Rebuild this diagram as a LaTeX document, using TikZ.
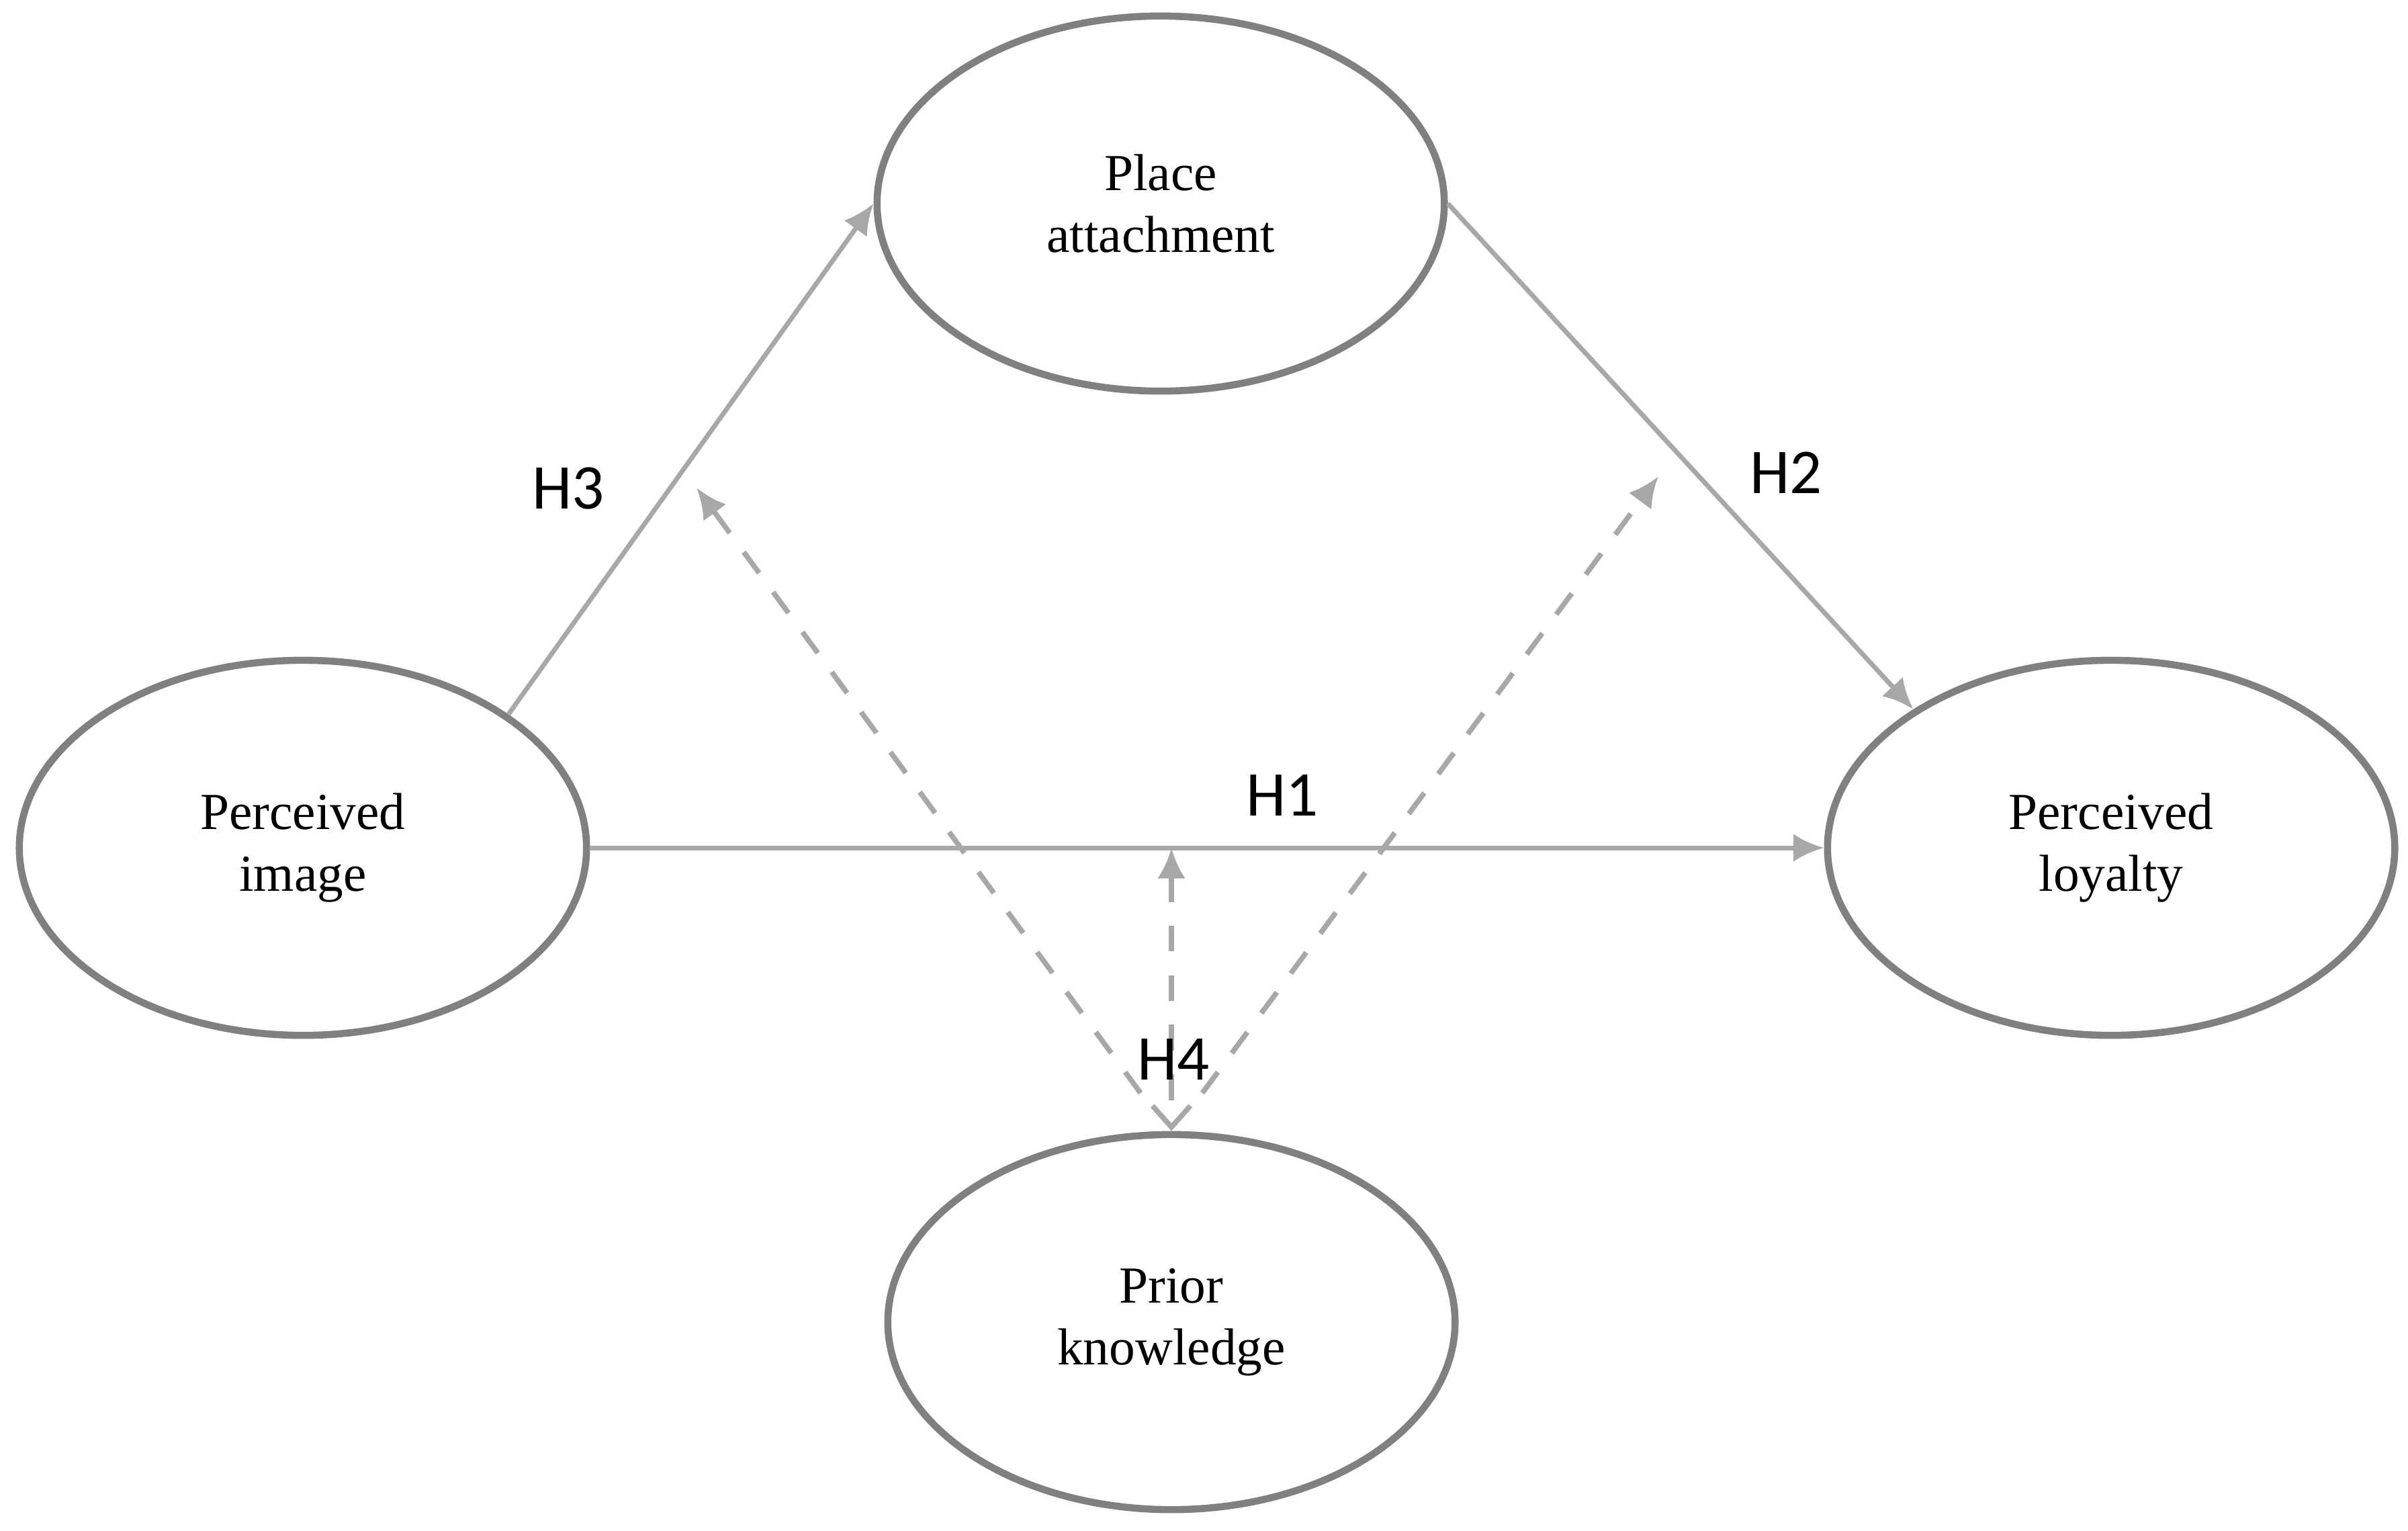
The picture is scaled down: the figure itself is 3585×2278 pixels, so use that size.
\documentclass[tikz,border=0pt]{standalone}
\usepackage{fontspec}
\setmainfont{Liberation Serif}
\newfontfamily\hfont{Carlito}
\usetikzlibrary{arrows.meta,shapes.geometric}
\definecolor{ring}{HTML}{808080}
\definecolor{link}{HTML}{A8A8A8}
\tikzset{
  construct/.style={draw=ring,line width=3pt,ellipse,minimum width=8.44cm,minimum height=5.58cm,align=center,font=\fontsize{22}{26}\selectfont,inner sep=0pt},
  path1/.style={draw=link,line width=2pt,-{Latex[length=13pt,width=12pt]}},
  dpath/.style={draw=link,line width=2.2pt,dash pattern=on 11pt off 10pt},
  hlabel/.style={font=\hfont\fontsize{27}{30}\selectfont,text=black}
}
\begin{document}
\begin{tikzpicture}[x=0.01cm,y=-0.01cm]
\useasboundingbox (0,0) rectangle (3585,2278);
\node[construct] (pa) at (1728,303) {Place\\attachment};
\node[construct] (pi) at (451,1262) {Perceived\\image};
\node[construct] (pl) at (3143,1262) {Perceived\\loyalty};
\node[construct] (pk) at (1744,1968) {Prior\\knowledge};
\draw[path1] (pi.33.5) -- (pa.180);
\draw[path1] (pa.0) -- (pl.145.8);
\draw[path1] (pi.east) -- (pl.west);
\coordinate (mid) at (1744,1262);
\coordinate (lb) at (1698,1627);
\coordinate (rb) at (1790,1627);
\coordinate (lt) at (1037,726);
\coordinate (rt) at (2469,709);
\draw[dpath,{Latex[length=13pt,width=12pt]}-{Straight Barb[length=9pt,width=16pt]}] (mid) -- (pk.north);
\draw[dpath,-{Latex[length=13pt,width=12pt]}] (lb) -- (lt);
\draw[dpath,-{Latex[length=13pt,width=12pt]}] (rb) -- (rt);
\node[hlabel] (h3) at (846,727) {H3};
\node[hlabel] (h2) at (2659,704) {H2};
\node[hlabel] (h1) at (1909,1184) {H1};
\node[hlabel] (h4) at (1747,1577) {H4};
\end{tikzpicture}
\end{document}
